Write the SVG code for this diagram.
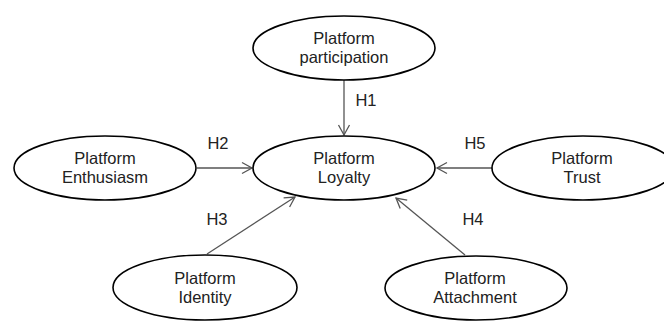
<svg xmlns="http://www.w3.org/2000/svg" width="664" height="329" viewBox="0 0 664 329">
<style>
.node ellipse{fill:#fff;stroke:#000;stroke-width:1.6}
text{font-family:"Liberation Sans",Arial,sans-serif;font-size:16.5px;fill:#222;text-anchor:middle}
.edge{stroke:#555;stroke-width:1.3;fill:none;marker-end:url(#arr)}
</style>
<defs>
<marker id="arr" markerUnits="userSpaceOnUse" markerWidth="14" markerHeight="14" viewBox="0 0 14 14" refX="12" refY="7" orient="auto">
<path d="M2,1.5 L12,7 L2,12.5" fill="none" stroke="#555" stroke-width="1.3"/>
</marker>
</defs>
<rect width="664" height="329" fill="#fff"/>
<g id="connectors">
<line class="edge" x1="344" y1="80" x2="344" y2="135"/>
<line class="edge" x1="197" y1="168" x2="252" y2="168"/>
<line class="edge" x1="492" y1="168" x2="437" y2="168"/>
<line class="edge" x1="207" y1="254" x2="295" y2="197"/>
<line class="edge" x1="465" y1="255" x2="396" y2="198"/>
<text x="366" y="106">H1</text>
<text x="218" y="149">H2</text>
<text x="475" y="149">H5</text>
<text x="217" y="225">H3</text>
<text x="473" y="225">H4</text>
</g>
<g id="participation" class="node">
<ellipse cx="344" cy="48" rx="91" ry="32"/>
<text x="344" y="44">Platform</text>
<text x="344" y="63">participation</text>
</g>
<g id="loyalty" class="node">
<ellipse cx="344" cy="168" rx="91" ry="32"/>
<text x="344" y="164">Platform</text>
<text x="344" y="183">Loyalty</text>
</g>
<g id="enthusiasm" class="node">
<ellipse cx="105" cy="168" rx="91" ry="32"/>
<text x="105" y="164">Platform</text>
<text x="105" y="183">Enthusiasm</text>
</g>
<g id="trust" class="node">
<ellipse cx="583" cy="168" rx="91" ry="32"/>
<text x="582" y="164">Platform</text>
<text x="582" y="183">Trust</text>
</g>
<g id="identity" class="node">
<ellipse cx="205" cy="287.5" rx="92" ry="32.5"/>
<text x="205" y="284">Platform</text>
<text x="205" y="303">Identity</text>
</g>
<g id="attachment" class="node">
<ellipse cx="476" cy="288" rx="91" ry="32"/>
<text x="475" y="284">Platform</text>
<text x="475" y="303">Attachment</text>
</g>
</svg>
